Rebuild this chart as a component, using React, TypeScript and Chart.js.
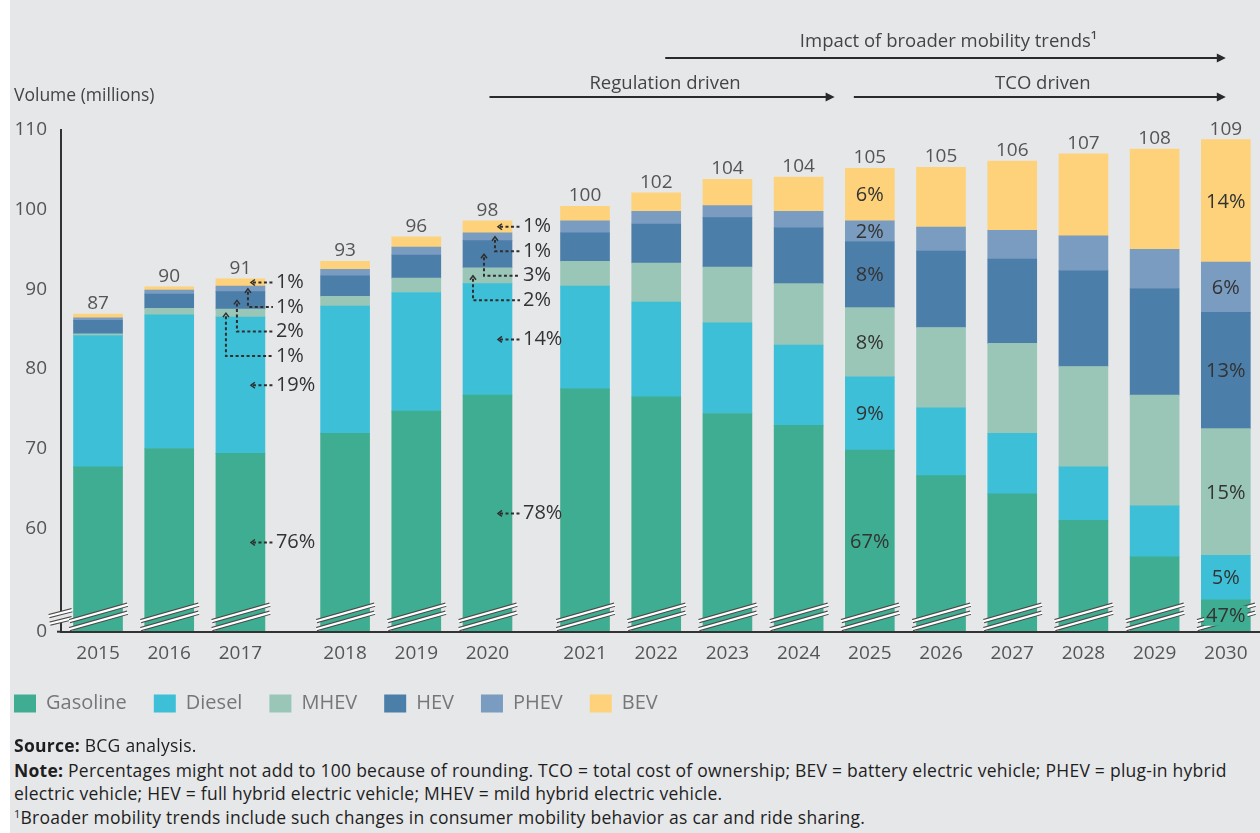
import React, { useEffect, useRef } from 'react';
import { Chart, registerables, CategoryScale } from 'chart.js';

// ---------------- data ----------------
const years = ['2015', '2016', '2017', '2018', '2019', '2020', '2021', '2022', '2023', '2024', '2025', '2026', '2027', '2028', '2029', '2030'];
const gasoline = [67.7, 70.0, 69.4, 71.9, 74.7, 76.7, 77.5, 76.5, 74.4, 72.9, 69.8, 66.6, 64.3, 61.0, 56.4, 51.0];
const diesel = [16.5, 16.8, 17.1, 16.0, 14.9, 14.0, 12.9, 11.9, 11.4, 10.1, 9.2, 8.5, 7.6, 6.7, 6.4, 5.6];
const mhev = [0.2, 0.8, 1.0, 1.2, 1.8, 2.0, 3.1, 4.9, 7.0, 7.7, 8.7, 10.1, 11.3, 12.6, 13.9, 15.9];
const hev = [1.7, 1.8, 2.2, 2.6, 2.9, 3.4, 3.6, 4.9, 6.2, 7.0, 8.3, 9.6, 10.6, 12.0, 13.4, 14.6];
const phev = [0.3, 0.5, 0.7, 0.8, 1.0, 1.0, 1.5, 1.6, 1.5, 2.1, 2.6, 3.0, 3.6, 4.4, 4.9, 6.3];
const bev = [0.5, 0.4, 0.9, 1.0, 1.3, 1.5, 1.8, 2.3, 3.3, 4.3, 6.6, 7.5, 8.7, 10.3, 12.6, 15.4];
const totals = [87, 90, 91, 93, 96, 98, 100, 102, 104, 104, 105, 105, 106, 107, 108, 109];
const seriesNames = ['Gasoline', 'Diesel', 'MHEV', 'HEV', 'PHEV', 'BEV'];
const yTickValues = [60, 70, 80, 90, 100, 110];
const yBreakLabel = '0';

// share labels (order: Gasoline, Diesel, MHEV, HEV, PHEV, BEV)
const calloutYears = ['2017', '2020'];
const callout2017 = ['76%', '19%', '1%', '2%', '1%', '1%'];
const callout2020 = ['78%', '14%', '2%', '3%', '1%', '1%'];
const insideYears = ['2025', '2030'];
const inside2025 = ['67%', '9%', '8%', '8%', '2%', '6%'];
const inside2030 = ['47%', '5%', '15%', '13%', '6%', '14%'];

// phase annotations above the chart
const phaseLabels = ['Impact of broader mobility trends\u00B9', 'Regulation driven', 'TCO driven'];
const phaseFrom = ['2022', '2020', '2025'];
const phaseTo = ['2030', '2024', '2030'];

// ---------------- style ----------------
const COLORS = ['#3fad91', '#3dc0d7', '#99c6b7', '#4c7eaa', '#7a9cc0', '#fdd27b'];
const BG = '#e6e7e9';
const FONT = 'Open Sans';
const AXIS_MIN = 47; // value drawn at the broken-axis "0"
const GAP_AFTER: Record<number, number> = { 2: 0.47, 5: 0.37 };
const PAD_LEFT = 0.52;
const PAD_RIGHT = 0.48;
const LEGEND_SHIFT = -8;

class GappedCategoryScale extends CategoryScale {
  static id = 'gappedCategory';
  static defaults = CategoryScale.defaults;
  getPixelForValue(value: any) {
    if (typeof value !== 'number') value = (this as any).parse(value);
    if (value === null || value === undefined || isNaN(value)) return NaN;
    const n = (this as any).getLabels().length;
    let extra = 0;
    let total = 0;
    for (const k in GAP_AFTER) {
      const g = GAP_AFTER[k as any];
      total += g;
      if (value > Number(k)) extra += g;
    }
    const units = PAD_LEFT + (n - 1) + total + PAD_RIGHT;
    return (this as any).getPixelForDecimal((PAD_LEFT + value + extra) / units);
  }
}

Chart.register(...registerables, GappedCategoryScale as any);
Chart.defaults.font.family = FONT;

function segmentsFor(chart: any, i: number) {
  const area = chart.chartArea;
  return chart.data.datasets.map((_: any, d: number) => {
    const el = chart.getDatasetMeta(d).data[i];
    const p = el.getProps(['x', 'y', 'base', 'width'], true);
    const top = Math.max(p.y, area.top);
    const bottom = Math.min(p.base, area.bottom);
    return { x: p.x, w: p.width, top, bottom, mid: (top + bottom) / 2 };
  });
}

function drawBreak(ctx: CanvasRenderingContext2D, x1: number, y1: number, x2: number, y2: number) {
  ctx.save();
  ctx.lineCap = 'butt';
  ctx.beginPath();
  ctx.moveTo(x1, y1);
  ctx.lineTo(x2, y2);
  ctx.strokeStyle = '#4a4a4a';
  ctx.lineWidth = 4.4;
  ctx.stroke();
  ctx.beginPath();
  ctx.moveTo(x1 - 0.5, y1 + 0.1);
  ctx.lineTo(x2 + 0.5, y2 - 0.1);
  ctx.strokeStyle = '#ffffff';
  ctx.lineWidth = 2.2;
  ctx.stroke();
  ctx.restore();
}

function drawArrow(ctx: CanvasRenderingContext2D, x1: number, x2: number, y: number) {
  ctx.save();
  ctx.strokeStyle = '#2a2a2a';
  ctx.fillStyle = '#2a2a2a';
  ctx.lineWidth = 2;
  ctx.beginPath();
  ctx.moveTo(x1, y);
  ctx.lineTo(x2 - 6, y);
  ctx.stroke();
  ctx.beginPath();
  ctx.moveTo(x2, y);
  ctx.lineTo(x2 - 9, y - 4.5);
  ctx.lineTo(x2 - 9, y + 4.5);
  ctx.closePath();
  ctx.fill();
  ctx.restore();
}

const legendNudgePlugin = {
  id: 'legendNudge',
  afterLayout(chart: any) {
    const lg = chart.legend;
    if (lg) {
      lg.top += LEGEND_SHIFT;
      lg.bottom += LEGEND_SHIFT;
    }
  },
};

const overlayPlugin = {
  id: 'overlay',
  afterDraw(chart: any) {
    const ctx: CanvasRenderingContext2D = chart.ctx;
    const area = chart.chartArea;
    const xs = chart.scales.x;
    const labels: string[] = chart.data.labels;
    const n = labels.length;

    // --- baseline stub left of the y axis
    ctx.save();
    ctx.strokeStyle = '#333333';
    ctx.lineWidth = 2;
    ctx.beginPath();
    ctx.moveTo(area.left - 4, area.bottom);
    ctx.lineTo(area.left, area.bottom);
    ctx.stroke();
    ctx.restore();

    // --- y-axis break
    ctx.save();
    ctx.fillStyle = BG;
    ctx.fillRect(area.left - 2, area.bottom - 20, 4, 11);
    ctx.restore();
    drawBreak(ctx, area.left - 12, area.bottom - 15.5, area.left + 11, area.bottom - 21.5);
    drawBreak(ctx, area.left - 11, area.bottom - 8, area.left + 11, area.bottom - 13.5);

    // --- bar breaks + totals
    for (let i = 0; i < n; i++) {
      const segs = segmentsFor(chart, i);
      const s0 = segs[0];
      const l = s0.x - s0.w / 2;
      const r = s0.x + s0.w / 2;
      const yb = area.bottom - 2.5;
      drawBreak(ctx, l - 4, yb, r + 5, yb - 16.5);
      drawBreak(ctx, l - 4, yb - 8, r + 5, yb - 24.5);
      const top = segs[segs.length - 1].top;
      ctx.save();
      ctx.fillStyle = '#555555';
      ctx.font = `19px "${FONT}"`;
      ctx.textAlign = 'center';
      ctx.textBaseline = 'alphabetic';
      ctx.fillText(String(totals[i]), s0.x, top - 5);
      ctx.restore();
    }

    // --- callouts with dotted leaders
    const calloutSets = [callout2017, callout2020];
    calloutYears.forEach((yr, ci) => {
      const i = labels.indexOf(yr);
      const segs = segmentsFor(chart, i);
      const right = segs[0].x + segs[0].w / 2;
      const textX = right + 11;
      let prevY = -Infinity;
      let elbow = 0;
      ctx.save();
      ctx.font = `20px "${FONT}"`;
      ctx.textAlign = 'left';
      ctx.textBaseline = 'middle';
      for (let d = segs.length - 1; d >= 0; d--) {
        const s = segs[d];
        const ly = Math.max(s.mid, prevY + 24.5);
        prevY = ly;
        ctx.strokeStyle = '#2e2e2e';
        if (ly - s.mid > 3) {
          const xv = right - 17 - 11 * elbow;
          elbow++;
          ctx.setLineDash([]);
          ctx.lineWidth = 1.5;
          ctx.beginPath();
          ctx.moveTo(xv - 3, s.mid + 4);
          ctx.lineTo(xv, s.mid);
          ctx.lineTo(xv + 3, s.mid + 4);
          ctx.stroke();
          ctx.setLineDash([3, 2.5]);
          ctx.lineWidth = 2;
          ctx.beginPath();
          ctx.moveTo(xv, s.mid + 3);
          ctx.lineTo(xv, ly);
          ctx.lineTo(textX - 3, ly);
          ctx.stroke();
        } else {
          const ax = right - 14;
          ctx.setLineDash([]);
          ctx.lineWidth = 1.5;
          ctx.beginPath();
          ctx.moveTo(ax + 4, ly - 3);
          ctx.lineTo(ax, ly);
          ctx.lineTo(ax + 4, ly + 3);
          ctx.stroke();
          ctx.setLineDash([3, 2.5]);
          ctx.lineWidth = 2;
          ctx.beginPath();
          ctx.moveTo(ax + 2, ly);
          ctx.lineTo(textX - 3, ly);
          ctx.stroke();
        }
        ctx.setLineDash([]);
        ctx.fillStyle = '#333333';
        ctx.fillText(calloutSets[ci][d], textX, ly);
      }
      ctx.restore();
    });

    // --- labels inside bars
    const insideSets = [inside2025, inside2030];
    insideYears.forEach((yr, ci) => {
      const i = labels.indexOf(yr);
      const segs = segmentsFor(chart, i);
      ctx.save();
      ctx.font = `20px "${FONT}"`;
      ctx.textAlign = 'center';
      ctx.textBaseline = 'middle';
      segs.forEach((s: any, d: number) => {
        const txt = insideSets[ci][d];
        if (s.bottom >= area.bottom - 1 && s.bottom - s.top < 40) {
          const tw = ctx.measureText(txt).width;
          ctx.fillStyle = COLORS[d];
          ctx.fillRect(s.x - tw / 2 - 2, s.mid - 10, tw + 4, 20);
        }
        ctx.fillStyle = '#333333';
        ctx.fillText(txt, s.x, s.mid + 1);
      });
      ctx.restore();
    });

    // --- phase arrows
    const px = (yr: string) => xs.getPixelForValue(labels.indexOf(yr));
    const arrowDefs = [
      { y: 58, ty: 42, x1: px(phaseFrom[0]) + 9, x2: px(phaseTo[0]) },
      { y: 97, ty: 84, x1: px(phaseFrom[1]) + 2, x2: px(phaseTo[1]) + 36 },
      { y: 97, ty: 84, x1: px(phaseFrom[2]) - 16, x2: px(phaseTo[2]) },
    ];
    arrowDefs.forEach((a, k) => {
      drawArrow(ctx, a.x1, a.x2, a.y);
      ctx.save();
      ctx.fillStyle = '#444444';
      ctx.font = `18.5px "${FONT}"`;
      ctx.textAlign = 'center';
      ctx.textBaseline = 'middle';
      ctx.fillText(phaseLabels[k], (a.x1 + a.x2) / 2 + 3, a.ty);
      ctx.restore();
    });

    // --- axis title
    ctx.save();
    ctx.fillStyle = '#444444';
    ctx.font = `17.5px "${FONT}"`;
    ctx.textAlign = 'left';
    ctx.textBaseline = 'middle';
    ctx.fillText('Volume (millions)', 14, 96);
    ctx.restore();
  },
};

const seriesData = [gasoline, diesel, mhev, hev, phev, bev];

export default function App() {
  const ref = useRef<HTMLCanvasElement>(null);
  useEffect(() => {
    const chart = new Chart(ref.current as HTMLCanvasElement, {
      type: 'bar',
      data: {
        labels: years,
        datasets: seriesNames.map((name, d) => ({
          label: name,
          data: seriesData[d],
          backgroundColor: COLORS[d],
          borderWidth: 0,
          barThickness: 49,
          clip: 0,
        })),
      },
      options: {
        responsive: false,
        animation: false,
        devicePixelRatio: 1,
        layout: { padding: { left: -13, right: 0, top: 130, bottom: 4.5 } },
        scales: {
          x: {
            type: 'gappedCategory' as any,
            stacked: true,
            grid: { display: false, drawTicks: false },
            border: { display: true, color: '#333333', width: 2, z: 1 },
            ticks: {
              autoSkip: false,
              maxRotation: 0,
              padding: 10,
              color: '#555555',
              font: { family: FONT, size: 19 },
            },
          },
          y: {
            type: 'linear',
            stacked: true,
            min: AXIS_MIN,
            max: 110,
            grid: { display: false, drawTicks: false },
            border: { display: true, color: '#333333', width: 2, z: 1 },
            afterBuildTicks: (s: any) => {
              s.ticks = [AXIS_MIN, ...yTickValues].map((v) => ({ value: v }));
            },
            afterFit: (s: any) => {
              s.width = 74;
            },
            ticks: {
              padding: 14,
              color: '#555555',
              font: { family: FONT, size: 19 },
              callback: (v: any) => (v === AXIS_MIN ? yBreakLabel : String(v)),
            },
          },
        },
        plugins: {
          legend: {
            position: 'bottom',
            align: 'start',
            labels: {
              boxWidth: 22,
              boxHeight: 18,
              padding: 27,
              color: '#777777',
              font: { family: FONT, size: 20 },
            },
          },
          tooltip: { enabled: false },
        },
      } as any,
      plugins: [legendNudgePlugin, overlayPlugin],
    });
    return () => chart.destroy();
  }, []);

  const foot: React.CSSProperties = {
    position: 'absolute',
    left: 14,
    whiteSpace: 'nowrap',
    fontFamily: FONT,
    fontSize: 17.5,
    letterSpacing: '0.25px',
    lineHeight: '24px',
    color: '#1e1e1e',
  };

  return (
    <div style={{ position: 'fixed', left: 0, top: 0, width: 1260, height: 833, background: '#ffffff', overflow: 'hidden' }}>
      <div style={{ position: 'absolute', left: 10, top: 0, right: 0, bottom: 0, background: BG }} />
      <canvas
        ref={ref}
        width={1260}
        height={736}
        style={{ position: 'absolute', left: 0, top: 0, width: 1260, height: 736 }}
      />
      <div style={{ ...foot, top: 733 }}>
        <b>Source:</b> BCG analysis.
      </div>
      <div style={{ ...foot, top: 758 }}>
        <b>Note:</b> Percentages might not add to 100 because of rounding. TCO = total cost of ownership; BEV = battery electric vehicle; PHEV = plug-in hybrid
      </div>
      <div style={{ ...foot, top: 781 }}>
        electric vehicle; HEV = full hybrid electric vehicle; MHEV = mild hybrid electric vehicle.
      </div>
      <div style={{ ...foot, top: 805 }}>
        <sup style={{ fontSize: 11, verticalAlign: 'top', lineHeight: '18px' }}>1</sup>Broader mobility trends include such changes in consumer mobility behavior as car and ride sharing.
      </div>
    </div>
  );
}
